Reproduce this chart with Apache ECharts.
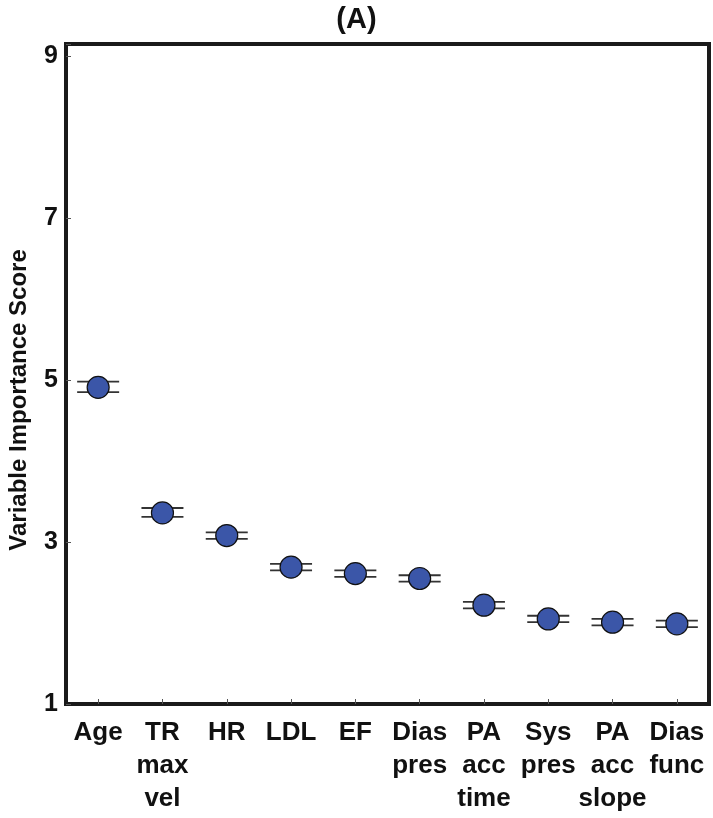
<!DOCTYPE html>
<html>
<head>
<meta charset="utf-8">
<script src="https://cdn.jsdelivr.net/npm/echarts@6/dist/echarts.min.js"></script>
<style>
  html, body { margin: 0; padding: 0; background: #fff; }
  #chart { width: 713px; height: 818px; }
</style>
</head>
<body>
<div id="chart"></div>
<script>
// variable names (x axis), mean importance and the interval ends
var categories = ['Age', 'TR\nmax\nvel', 'HR', 'LDL', 'EF', 'Dias\npres', 'PA\nacc\ntime', 'Sys\npres', 'PA\nacc\nslope', 'Dias\nfunc'];
var scores = [4.91, 3.36, 3.08, 2.69, 2.61, 2.55, 2.22, 2.05, 2.01, 1.99];
var lower = [4.85, 3.31, 3.04, 2.65, 2.57, 2.51, 2.18, 2.01, 1.97, 1.95];
var upper = [4.98, 3.42, 3.12, 2.73, 2.65, 2.59, 2.26, 2.09, 2.05, 2.03];
var yTicks = [1, 3, 5, 7, 9];

var errData = categories.map(function(c, i) { return [i, lower[i], upper[i]]; });

var chart = echarts.init(document.getElementById('chart'));

var font = 'Liberation Sans, Arial, sans-serif';

chart.setOption({
  animation: false,
  title: {
    text: '(A)',
    left: 'center',
    top: 0,
    textStyle: { fontFamily: font, fontWeight: 'bold', fontSize: 29, color: '#111' }
  },
  grid: {
    left: 66, right: 4, top: 44, bottom: 114,
    outerBoundsMode: 'none',
    containLabel: false,
    show: true, borderColor: '#1a1a1a', borderWidth: 4
  },
  xAxis: {
    type: 'category',
    data: categories,
    axisLine: { show: false },
    axisTick: { show: true, inside: true, alignWithLabel: true, length: 5, lineStyle: { color: '#555', width: 1 } },
    axisLabel: {
      interval: 0, margin: 12,
      fontFamily: font, fontWeight: 'bold', fontSize: 26, lineHeight: 33, color: '#111'
    }
  },
  yAxis: {
    type: 'value',
    min: 1, max: 9.15, interval: 2,
    name: 'Variable Importance Score',
    nameLocation: 'middle',
    nameGap: 35,
    nameTextStyle: { fontFamily: font, fontWeight: 'bold', fontSize: 24, color: '#111', padding: [0, 52, 0, 0] },
    splitLine: { show: false },
    axisLine: { show: false },
    axisTick: { show: true, inside: true, length: 5, lineStyle: { color: '#555', width: 1 } },
    axisLabel: {
      margin: 8,
      fontFamily: font, fontWeight: 'bold', fontSize: 25, color: '#111',
      formatter: function(v) { return yTicks.indexOf(v) >= 0 ? String(v) : ''; }
    }
  },
  series: [
    {
      type: 'custom',
      data: errData,
      z: 2,
      renderItem: function(params, api) {
        var lo = api.coord([api.value(0), api.value(1)]);
        var hi = api.coord([api.value(0), api.value(2)]);
        var hw = 21;
        var style = { stroke: '#333', lineWidth: 1.8 };
        return {
          type: 'group',
          children: [
            { type: 'line', shape: { x1: lo[0] - hw, y1: lo[1], x2: lo[0] + hw, y2: lo[1] }, style: style },
            { type: 'line', shape: { x1: hi[0] - hw, y1: hi[1], x2: hi[0] + hw, y2: hi[1] }, style: style }
          ]
        };
      }
    },
    {
      type: 'scatter',
      data: scores,
      z: 3,
      symbol: 'circle',
      symbolSize: 22,
      itemStyle: { color: '#3b56a8', borderColor: '#111', borderWidth: 1.2, opacity: 1 }
    }
  ]
});
</script>
</body>
</html>
